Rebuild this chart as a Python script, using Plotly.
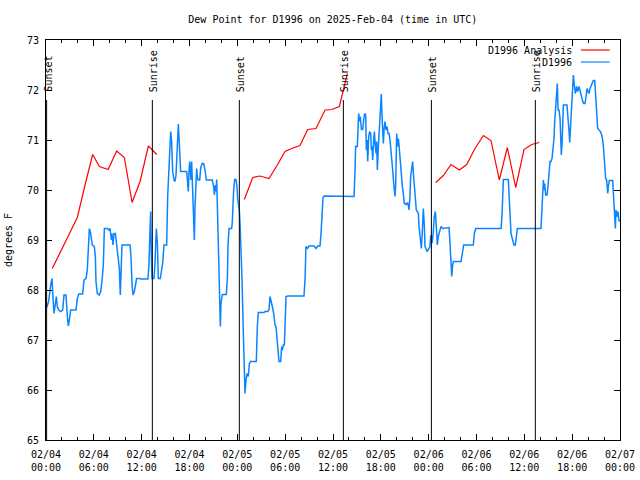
import pandas as pd
import plotly.graph_objects as go

BASE = pd.Timestamp("2025-02-04 00:00")

# D1996 observed dew point (hours since 2025-02-04 00:00 UTC, deg F)
obs_hours = [0.08, 0.33, 0.59, 0.75, 0.84, 1.00, 1.13, 1.30, 1.42, 1.59, 1.84, 2.09, 2.26, 2.51, 2.68, 2.80, 2.93, 3.09, 3.76, 3.93,
             4.10, 4.60, 4.77, 5.02, 5.18, 5.27, 5.44, 5.60, 5.81, 6.06, 6.19, 6.27, 6.44, 6.69, 6.86, 7.02, 7.19, 7.32, 7.69, 7.90,
             8.03, 8.20, 8.28, 8.40, 8.53, 8.70, 8.86, 8.95, 9.07, 9.20, 9.32, 9.41, 9.53, 10.54, 10.66, 10.79, 10.91, 11.08, 11.21, 11.37,
             11.79, 11.87, 12.79, 12.92, 13.05, 13.13, 13.21, 13.30, 13.55, 13.67, 13.84, 13.97, 14.09, 14.34, 14.47, 14.63, 14.80, 15.14, 15.26, 15.43,
             15.55, 15.64, 15.76, 15.89, 16.06, 16.18, 16.31, 16.47, 16.60, 16.73, 16.85, 16.89, 17.65,
             17.77, 17.85, 17.94, 18.02, 18.10, 18.19, 18.27, 18.36, 18.44, 18.52, 18.61, 18.69, 18.82, 18.90, 18.98, 19.07, 19.28, 19.40,
             19.57, 19.78, 19.94, 20.11, 20.86, 21.03, 21.12, 21.24, 21.32, 21.41, 21.53, 21.66, 21.78, 21.87, 21.95, 22.12, 22.62, 22.75,
             22.83, 22.96, 23.29, 23.37, 23.54, 23.67, 23.83, 23.96, 24.04, 24.17, 24.25, 24.34, 24.46, 24.59, 24.71, 24.84, 24.96, 25.09,
             25.21, 25.38, 25.51, 25.67, 26.38, 26.51, 26.63, 27.35, 27.47, 27.81, 27.97, 28.10, 28.22, 28.39, 28.56, 28.73, 28.85, 28.98,
             29.10, 29.23, 29.44, 29.56, 29.65, 29.77, 29.90, 29.98, 30.11, 30.36, 31.23, 31.74, 32.36, 32.49, 32.61, 32.82, 32.99, 33.62,
             33.87, 34.08, 34.37, 34.50, 34.62, 34.75, 34.91,
             38.64, 38.76, 38.84, 39.05, 39.14, 39.22, 39.35, 39.43, 39.56, 39.72, 39.85, 39.97, 40.10, 40.18, 40.27, 40.35, 40.48, 40.60,
             40.73, 40.81, 40.89, 40.98, 41.10, 41.19, 41.31, 41.40, 41.48, 41.56, 41.69, 41.81, 41.98, 42.06, 42.15, 42.23, 42.32, 42.40,
             42.52, 42.65, 42.78, 42.90, 43.03, 43.15, 43.28, 43.36, 43.49, 43.61, 43.70, 43.78, 43.86, 43.99, 44.11, 44.20, 44.28, 44.36,
             44.49, 44.57, 44.70, 44.82, 44.95, 45.07, 45.20, 45.33, 45.45, 45.53, 45.66, 45.74, 45.87, 45.99, 46.08, 46.20, 46.33, 46.45,
             46.58, 46.71, 46.79, 46.91, 47.00, 47.08, 47.17, 47.25, 47.33, 47.46, 47.54, 47.67, 47.79, 47.92, 48.04, 48.17, 48.25, 48.34,
             48.42, 48.55, 48.71, 48.84, 48.92, 49.00, 49.09, 49.21, 49.38, 49.55, 49.76, 50.55, 50.68, 50.76, 50.89, 51.01, 51.10, 52.06,
             52.27, 52.39, 53.60, 53.73, 53.90,
             57.08, 57.20, 57.37, 57.99, 58.16, 58.33, 58.58, 58.71, 58.87, 59.00, 59.12, 62.09, 62.18, 62.30, 62.39, 62.47, 62.55, 62.68,
             62.85, 62.97, 63.10, 63.22, 63.35, 63.47, 63.60, 63.72, 63.81, 63.93, 64.06, 64.14, 64.23, 64.35, 64.48, 64.56, 64.64, 64.73,
             64.81, 64.90, 65.35, 65.48, 65.61, 65.69, 65.77, 65.86, 65.94, 66.07, 66.15, 66.27, 66.40, 66.57, 66.69, 66.86, 66.98, 67.11,
             67.28, 67.44, 67.61, 67.74, 67.86, 67.99, 68.11, 68.24, 68.37, 68.49, 68.66, 68.83, 68.95, 69.08, 69.20, 69.37, 69.54, 69.70,
             69.83, 69.95, 70.08, 70.20, 70.33, 70.46, 70.54, 70.66, 71.08, 71.21, 71.33, 71.42, 71.50, 71.63, 71.75, 71.88, 71.96]
obs_values = [67.65, 67.77, 68.10, 68.23, 67.97, 67.53, 67.67, 67.87, 67.67, 67.60, 67.57, 67.60, 67.90, 67.90, 67.47, 67.28, 67.40, 67.60, 67.60, 67.83,
              67.92, 67.92, 68.20, 68.23, 68.40, 68.73, 69.23, 69.13, 68.90, 68.87, 68.67, 68.17, 67.93, 67.90, 67.97, 68.17, 68.50, 69.23, 69.23, 69.20,
              69.23, 69.00, 69.13, 68.90, 69.13, 69.13, 68.90, 68.87, 68.67, 68.43, 67.90, 68.67, 68.90, 68.90, 68.67, 68.13, 67.90, 67.97, 68.13, 68.23,
              68.23, 68.22, 68.22, 68.53, 69.23, 69.57, 68.73, 68.23, 68.23, 68.53, 69.23, 68.93, 68.23, 68.23, 68.37, 68.53, 68.90, 68.90, 69.87, 70.43,
              70.93, 71.17, 70.97, 70.37, 70.20, 70.17, 70.30, 71.07, 71.32, 70.90, 70.60, 70.37, 70.37,
              70.07, 69.97, 70.37, 70.57, 70.40, 70.20, 70.57, 70.20, 69.67, 69.27, 69.00, 69.67, 70.20, 70.43, 70.27, 70.20, 70.20, 70.43,
              70.53, 70.53, 70.40, 70.20, 70.20, 70.07, 69.90, 70.10, 69.97, 70.21, 69.47, 68.73, 67.73, 67.27, 67.73, 67.91, 67.91, 68.23,
              68.90, 69.23, 69.23, 69.37, 70.00, 70.21, 70.21, 70.07, 69.83, 69.73, 69.60, 69.33, 68.87, 68.20, 67.40, 66.40, 65.93, 66.20,
              66.33, 66.27, 66.53, 66.57, 66.57, 67.27, 67.55, 67.55, 67.57, 67.57, 67.60, 67.87, 67.80, 67.67, 67.53, 67.30, 67.27, 67.00,
              66.80, 66.57, 66.57, 66.87, 66.80, 66.90, 66.90, 67.53, 67.87, 67.88, 67.88, 67.87, 67.88, 68.20, 68.87, 68.83, 68.88, 68.88,
              68.83, 68.88, 68.88, 69.13, 69.63, 69.85, 69.88,
              69.87, 70.37, 70.87, 70.87, 71.30, 71.53, 71.37, 71.47, 71.21, 71.21, 71.40, 71.53, 71.50, 70.80, 71.00, 70.57, 71.07, 71.17,
              71.13, 70.80, 70.87, 70.60, 71.00, 71.17, 70.87, 70.73, 70.97, 70.40, 70.87, 71.20, 71.67, 71.92, 71.47, 71.17, 70.93, 71.20,
              71.37, 71.20, 71.27, 71.13, 71.13, 71.00, 70.80, 70.60, 70.40, 70.13, 69.93, 69.87, 70.10, 71.13, 70.87, 71.03, 70.90, 70.70,
              70.40, 70.20, 70.07, 69.93, 69.73, 69.73, 69.70, 69.75, 69.70, 69.60, 69.87, 70.27, 70.47, 70.57, 70.33, 70.13, 69.87, 69.60,
              69.57, 69.53, 69.27, 69.07, 69.00, 68.83, 69.07, 69.27, 69.63, 69.27, 68.87, 68.83, 68.77, 68.80, 68.83, 68.87, 69.07, 69.10,
              68.93, 69.10, 69.47, 69.57, 69.37, 69.13, 68.90, 69.07, 69.17, 69.27, 69.23, 69.25, 68.93, 68.53, 68.27, 68.50, 68.57, 68.57,
              68.83, 68.90, 68.90, 69.13, 69.23,
              69.23, 69.50, 70.21, 70.21, 69.50, 69.13, 68.97, 68.90, 68.90, 69.13, 69.23, 69.23, 69.47, 69.97, 70.20, 70.00, 70.13, 69.90,
              69.90, 70.07, 70.37, 70.57, 70.57, 70.63, 70.83, 71.03, 71.37, 71.67, 71.97, 72.13, 71.60, 71.60, 71.43, 70.93, 70.70, 70.93,
              71.27, 71.70, 71.70, 71.50, 71.17, 70.95, 71.20, 71.40, 71.73, 72.10, 72.30, 72.10, 71.93, 72.07, 71.97, 72.07, 71.97, 71.87,
              71.80, 71.73, 71.73, 71.87, 72.03, 71.97, 71.93, 72.03, 72.07, 72.13, 72.19, 72.19, 71.87, 71.47, 71.23, 71.20, 71.17, 71.10,
              71.00, 70.80, 70.53, 70.23, 70.20, 69.93, 70.07, 70.19, 70.19, 69.80, 69.53, 69.23, 69.60, 69.47, 69.57, 69.37, 69.40]

# D1996 Analysis (three separate segments)
ana1_hours = [0.79, 3.93, 4.90, 5.85, 6.70, 7.80, 8.86, 9.83, 10.80, 11.80, 12.84, 13.90]
ana1_values = [68.43, 69.45, 70.10, 70.71, 70.47, 70.41, 70.78, 70.65, 69.75, 70.17, 70.88, 70.71]
ana2_hours = [24.88, 25.93, 26.84, 27.97, 28.94, 29.98, 30.82, 31.86, 32.82, 33.87, 35.00, 35.84, 36.80, 37.80]
ana2_values = [69.81, 70.25, 70.28, 70.23, 70.48, 70.77, 70.83, 70.89, 71.21, 71.23, 71.60, 71.61, 71.67, 72.33]
ana3_hours = [48.88, 49.84, 50.80, 51.85, 52.77, 53.81, 54.86, 55.82, 56.86, 57.87, 58.92, 59.96, 60.92, 61.88]
ana3_values = [70.15, 70.29, 70.51, 70.40, 70.51, 70.83, 71.09, 70.99, 70.20, 70.85, 70.05, 70.81, 70.91, 70.95]

# Sun events (hours since start)
sun_hours = [0.08, 13.34, 24.25, 37.30, 48.34, 61.38]
sun_labels = ["Sunset", "Sunrise", "Sunset", "Sunrise", "Sunset", "Sunrise"]

TITLE = "Dew Point for D1996 on 2025-Feb-04 (time in UTC)"
Y_TITLE = "degrees F"
OBS_NAME = "D1996"
ANA_NAME = "D1996 Analysis"

FONT = "DejaVu Sans Mono"
RED = "#ff0000"
BLUE = "#0a84ff"


def to_time(hours):
    return BASE + pd.to_timedelta(hours, unit="h")


fig = go.Figure()
for i, (h, v) in enumerate([(ana1_hours, ana1_values), (ana2_hours, ana2_values), (ana3_hours, ana3_values)]):
    fig.add_trace(go.Scatter(x=to_time(h), y=v, mode="lines", name=ANA_NAME,
                             line=dict(color=RED, width=1.2), showlegend=False))
fig.add_trace(go.Scatter(x=to_time(obs_hours), y=obs_values, mode="lines", name=OBS_NAME,
                         line=dict(color=BLUE, width=1.5), showlegend=False))

shapes = []
annotations = []
for h, lab in zip(sun_hours, sun_labels):
    t = to_time(h)
    shapes.append(dict(type="line", xref="x", yref="paper", x0=t, x1=t, y0=0, y1=0.85,
                       line=dict(color="black", width=1)))
    annotations.append(dict(x=t, y=0.865, xref="x", yref="paper", text=lab, textangle=-90,
                            showarrow=False, xanchor="center", yanchor="bottom", xshift=1,
                            font=dict(family=FONT, size=10, color="black")))

# legend drawn gnuplot-style (text right, sample on the right)
for yy, name, col in [(0.975, ANA_NAME, RED), (0.945, OBS_NAME, BLUE)]:
    annotations.append(dict(x=0.92, y=yy, xref="paper", yref="paper", text=name, showarrow=False,
                            xanchor="right", yanchor="middle",
                            font=dict(family=FONT, size=10, color="black")))
    shapes.append(dict(type="line", xref="paper", yref="paper", x0=0.932, x1=0.982, y0=yy, y1=yy,
                       line=dict(color=col, width=1.2)))

fig.update_layout(
    width=640, height=480,
    margin=dict(l=46, r=20, t=40, b=40, autoexpand=False),
    paper_bgcolor="white", plot_bgcolor="white",
    font=dict(family=FONT, size=10, color="black"),
    title=dict(text=TITLE, x=0.52, xanchor="center", xref="container", y=1 - 19 / 480, yanchor="middle",
               yref="container", automargin=False,
               font=dict(family=FONT, size=10, color="black")),
    shapes=shapes, annotations=annotations,
    showlegend=False,
)
fig.update_xaxes(
    type="date", automargin=False,
    range=[BASE, BASE + pd.Timedelta(hours=72)],
    dtick=6 * 3600 * 1000, tick0=BASE,
    tickformat="%m/%d<br>%H:%M",
    ticks="inside", ticklen=6, tickcolor="black",
    minor=dict(dtick=2 * 3600 * 1000, ticks="inside", ticklen=3, tickcolor="black", showgrid=False),
    showline=True, linecolor="black", linewidth=1, mirror="allticks",
    showgrid=False, zeroline=False,
    ticklabelstandoff=5,
    tickfont=dict(family=FONT, size=10, color="black"),
)
fig.update_yaxes(
    automargin=False,
    range=[65, 73], dtick=1,
    ticks="inside", ticklen=6, tickcolor="black",
    showline=True, linecolor="black", linewidth=1, mirror="allticks",
    showgrid=False, zeroline=False,
    ticklabelstandoff=4,
    tickfont=dict(family=FONT, size=10, color="black"),
    title=dict(text=Y_TITLE, standoff=12, font=dict(family=FONT, size=10, color="black")),
)

fig.write_html("out.html", config={"displayModeBar": False},
               post_script="document.body.style.margin='0';")
